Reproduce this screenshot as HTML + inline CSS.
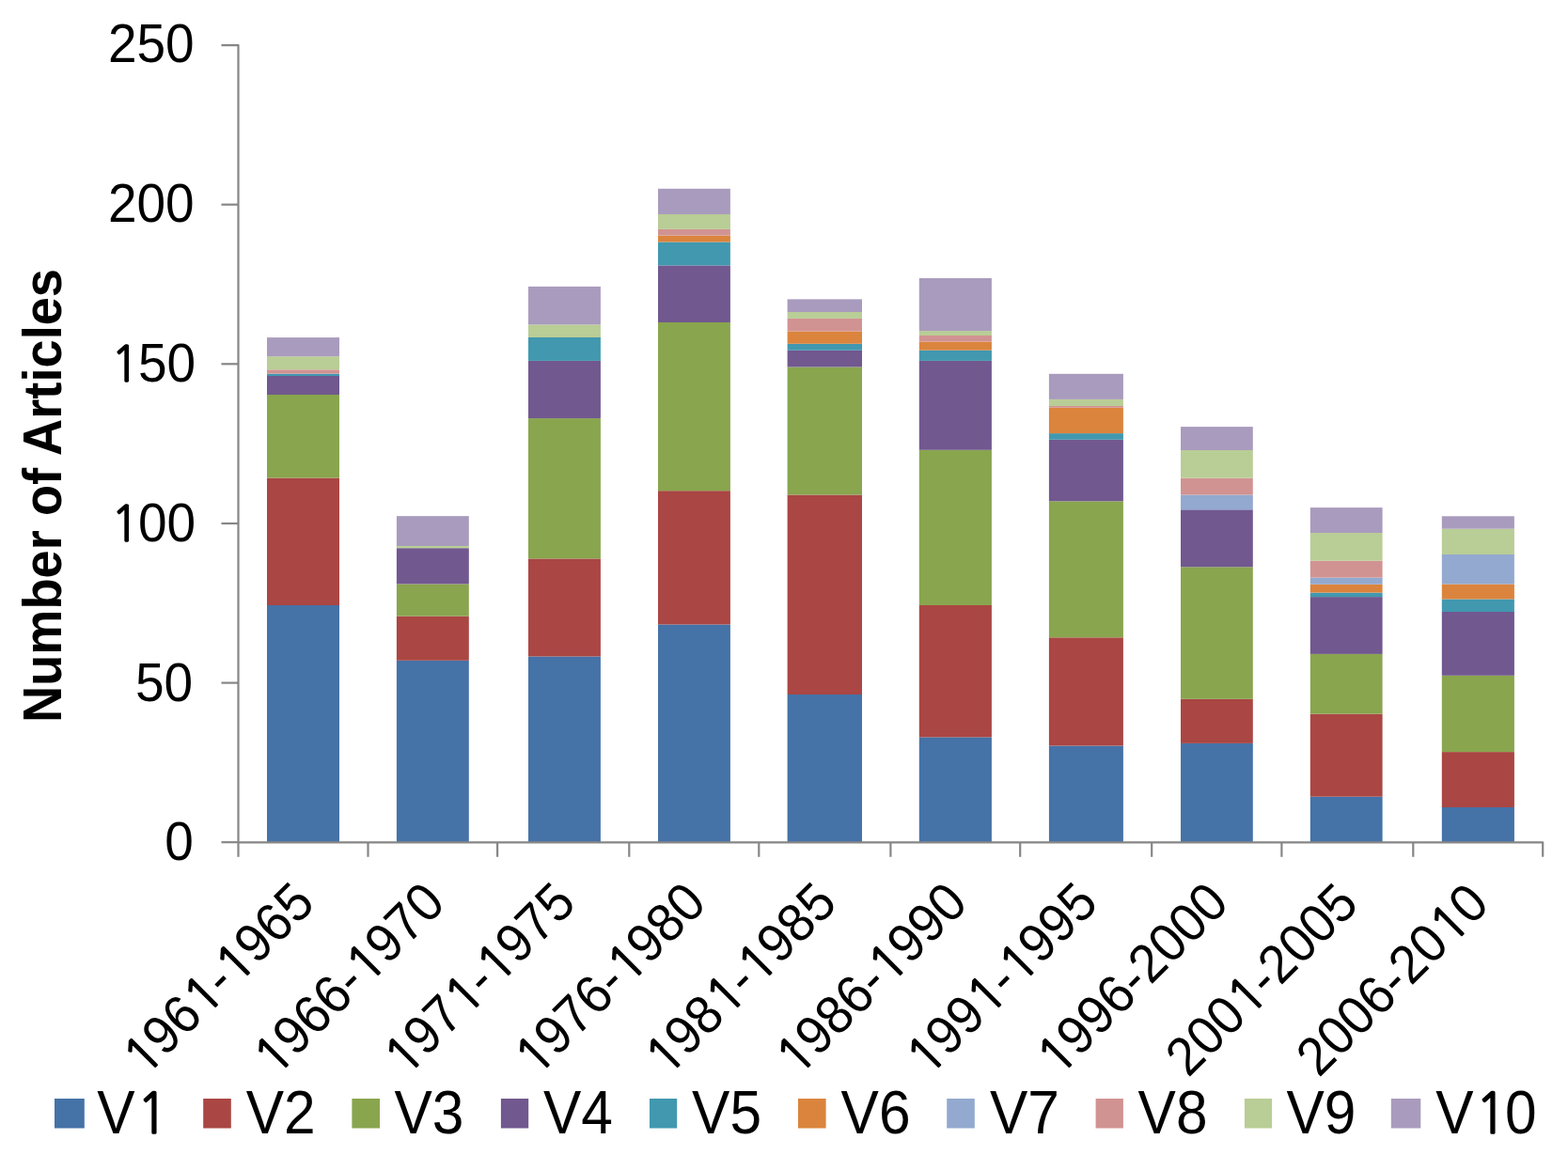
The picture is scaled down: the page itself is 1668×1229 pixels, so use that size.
<!DOCTYPE html>
<html><head><meta charset="utf-8"><title>Number of Articles</title>
<style>html,body{margin:0;padding:0;background:#fff;overflow:hidden;}svg{display:block;}text{font-family:"Liberation Sans",Arial,sans-serif;fill:#000;}</style></head><body>
<svg width="1668" height="1229" viewBox="0 0 1668 1229">
<rect width="1668" height="1229" fill="#fff"/>
<rect x="284.00" y="644.00" width="77.00" height="252.00" fill="#4572A7"/>
<rect x="284.00" y="508.50" width="77.00" height="135.50" fill="#AA4643"/>
<rect x="284.00" y="420.00" width="77.00" height="88.50" fill="#89A54E"/>
<rect x="284.00" y="400.00" width="77.00" height="20.00" fill="#71588F"/>
<rect x="284.00" y="397.60" width="77.00" height="2.40" fill="#4198AF"/>
<rect x="284.00" y="393.30" width="77.00" height="4.30" fill="#D19392"/>
<rect x="284.00" y="379.20" width="77.00" height="14.10" fill="#B9CD96"/>
<rect x="284.00" y="359.10" width="77.00" height="20.10" fill="#A99BBD"/>
<rect x="421.90" y="702.80" width="76.90" height="193.20" fill="#4572A7"/>
<rect x="421.90" y="655.60" width="76.90" height="47.20" fill="#AA4643"/>
<rect x="421.90" y="621.40" width="76.90" height="34.20" fill="#89A54E"/>
<rect x="421.90" y="583.20" width="76.90" height="38.20" fill="#71588F"/>
<rect x="421.90" y="581.00" width="76.90" height="2.20" fill="#B9CD96"/>
<rect x="421.90" y="549.15" width="76.90" height="31.85" fill="#A99BBD"/>
<rect x="562.00" y="698.50" width="76.90" height="197.50" fill="#4572A7"/>
<rect x="562.00" y="594.40" width="76.90" height="104.10" fill="#AA4643"/>
<rect x="562.00" y="445.10" width="76.90" height="149.30" fill="#89A54E"/>
<rect x="562.00" y="383.90" width="76.90" height="61.20" fill="#71588F"/>
<rect x="562.00" y="359.00" width="76.90" height="24.90" fill="#4198AF"/>
<rect x="562.00" y="345.40" width="76.90" height="13.60" fill="#B9CD96"/>
<rect x="562.00" y="304.90" width="76.90" height="40.50" fill="#A99BBD"/>
<rect x="700.00" y="664.50" width="76.90" height="231.50" fill="#4572A7"/>
<rect x="700.00" y="522.20" width="76.90" height="142.30" fill="#AA4643"/>
<rect x="700.00" y="343.00" width="76.90" height="179.20" fill="#89A54E"/>
<rect x="700.00" y="282.40" width="76.90" height="60.60" fill="#71588F"/>
<rect x="700.00" y="257.50" width="76.90" height="24.90" fill="#4198AF"/>
<rect x="700.00" y="250.60" width="76.90" height="6.90" fill="#DB843D"/>
<rect x="700.00" y="243.90" width="76.90" height="6.70" fill="#D19392"/>
<rect x="700.00" y="228.00" width="76.90" height="15.90" fill="#B9CD96"/>
<rect x="700.00" y="200.80" width="76.90" height="27.20" fill="#A99BBD"/>
<rect x="837.60" y="739.00" width="79.40" height="157.00" fill="#4572A7"/>
<rect x="837.60" y="526.50" width="79.40" height="212.50" fill="#AA4643"/>
<rect x="837.60" y="390.50" width="79.40" height="136.00" fill="#89A54E"/>
<rect x="837.60" y="372.80" width="79.40" height="17.70" fill="#71588F"/>
<rect x="837.60" y="365.80" width="79.40" height="7.00" fill="#4198AF"/>
<rect x="837.60" y="352.50" width="79.40" height="13.30" fill="#DB843D"/>
<rect x="837.60" y="338.90" width="79.40" height="13.60" fill="#D19392"/>
<rect x="837.60" y="332.00" width="79.40" height="6.90" fill="#B9CD96"/>
<rect x="837.60" y="318.40" width="79.40" height="13.60" fill="#A99BBD"/>
<rect x="977.80" y="784.40" width="77.10" height="111.60" fill="#4572A7"/>
<rect x="977.80" y="644.00" width="77.10" height="140.40" fill="#AA4643"/>
<rect x="977.80" y="478.80" width="77.10" height="165.20" fill="#89A54E"/>
<rect x="977.80" y="383.90" width="77.10" height="94.90" fill="#71588F"/>
<rect x="977.80" y="372.70" width="77.10" height="11.20" fill="#4198AF"/>
<rect x="977.80" y="363.50" width="77.10" height="9.20" fill="#DB843D"/>
<rect x="977.80" y="357.00" width="77.10" height="6.50" fill="#D19392"/>
<rect x="977.80" y="352.10" width="77.10" height="4.90" fill="#B9CD96"/>
<rect x="977.80" y="296.00" width="77.10" height="56.10" fill="#A99BBD"/>
<rect x="1115.90" y="793.50" width="79.00" height="102.50" fill="#4572A7"/>
<rect x="1115.90" y="678.30" width="79.00" height="115.20" fill="#AA4643"/>
<rect x="1115.90" y="533.30" width="79.00" height="145.00" fill="#89A54E"/>
<rect x="1115.90" y="467.80" width="79.00" height="65.50" fill="#71588F"/>
<rect x="1115.90" y="461.10" width="79.00" height="6.70" fill="#4198AF"/>
<rect x="1115.90" y="433.80" width="79.00" height="27.30" fill="#DB843D"/>
<rect x="1115.90" y="432.00" width="79.00" height="1.80" fill="#D19392"/>
<rect x="1115.90" y="424.90" width="79.00" height="7.10" fill="#B9CD96"/>
<rect x="1115.90" y="397.80" width="79.00" height="27.10" fill="#A99BBD"/>
<rect x="1256.00" y="790.90" width="76.80" height="105.10" fill="#4572A7"/>
<rect x="1256.00" y="743.80" width="76.80" height="47.10" fill="#AA4643"/>
<rect x="1256.00" y="603.30" width="76.80" height="140.50" fill="#89A54E"/>
<rect x="1256.00" y="542.30" width="76.80" height="61.00" fill="#71588F"/>
<rect x="1256.00" y="526.50" width="76.80" height="15.80" fill="#93A9CF"/>
<rect x="1256.00" y="508.70" width="76.80" height="17.80" fill="#D19392"/>
<rect x="1256.00" y="479.00" width="76.80" height="29.70" fill="#B9CD96"/>
<rect x="1256.00" y="454.10" width="76.80" height="24.90" fill="#A99BBD"/>
<rect x="1393.80" y="847.70" width="76.80" height="48.30" fill="#4572A7"/>
<rect x="1393.80" y="759.60" width="76.80" height="88.10" fill="#AA4643"/>
<rect x="1393.80" y="695.90" width="76.80" height="63.70" fill="#89A54E"/>
<rect x="1393.80" y="635.10" width="76.80" height="60.80" fill="#71588F"/>
<rect x="1393.80" y="630.60" width="76.80" height="4.50" fill="#4198AF"/>
<rect x="1393.80" y="621.70" width="76.80" height="8.90" fill="#DB843D"/>
<rect x="1393.80" y="614.60" width="76.80" height="7.10" fill="#93A9CF"/>
<rect x="1393.80" y="596.70" width="76.80" height="17.90" fill="#D19392"/>
<rect x="1393.80" y="567.00" width="76.80" height="29.70" fill="#B9CD96"/>
<rect x="1393.80" y="540.10" width="76.80" height="26.90" fill="#A99BBD"/>
<rect x="1533.80" y="859.00" width="77.10" height="37.00" fill="#4572A7"/>
<rect x="1533.80" y="800.10" width="77.10" height="58.90" fill="#AA4643"/>
<rect x="1533.80" y="718.80" width="77.10" height="81.30" fill="#89A54E"/>
<rect x="1533.80" y="651.00" width="77.10" height="67.80" fill="#71588F"/>
<rect x="1533.80" y="637.50" width="77.10" height="13.50" fill="#4198AF"/>
<rect x="1533.80" y="621.50" width="77.10" height="16.00" fill="#DB843D"/>
<rect x="1533.80" y="590.00" width="77.10" height="31.50" fill="#93A9CF"/>
<rect x="1533.80" y="562.70" width="77.10" height="27.30" fill="#B9CD96"/>
<rect x="1533.80" y="549.30" width="77.10" height="13.40" fill="#A99BBD"/>
<g stroke="#868686" stroke-width="2.20" fill="none" stroke-linejoin="round">
<path d="M235.50 48.06 H253.50 V896.30"/>
<path d="M253.50 896.30 H1641.20 V911.80"/>
<path d="M235.50 217.70 H253.50"/>
<path d="M235.50 387.30 H253.50"/>
<path d="M235.50 557.00 H253.50"/>
<path d="M235.50 726.60 H253.50"/>
<path d="M235.50 896.20 H253.50"/>
<path d="M253.50 896.30 V911.80"/>
<path d="M391.50 896.30 V911.80"/>
<path d="M529.10 896.30 V911.80"/>
<path d="M669.30 896.30 V911.80"/>
<path d="M807.30 896.30 V911.80"/>
<path d="M947.40 896.30 V911.80"/>
<path d="M1085.20 896.30 V911.80"/>
<path d="M1225.20 896.30 V911.80"/>
<path d="M1363.40 896.30 V911.80"/>
<path d="M1503.30 896.30 V911.80"/>
</g>
<text transform="translate(206.70 66.35) scale(1.000 1.060)" font-size="55.00" text-anchor="end">250</text>
<text transform="translate(206.70 236.05) scale(1.000 1.060)" font-size="55.00" text-anchor="end">200</text>
<text transform="translate(206.70 405.65) scale(1.000 1.060)" font-size="55.00" text-anchor="end"><tspan font-family="NanumGothic,&quot;Liberation Sans&quot;,sans-serif" font-size="49.90" stroke="#000" stroke-width="1.30" dx="1.40">1</tspan><tspan dx="-1.40">5</tspan>0</text>
<text transform="translate(206.70 576.05) scale(1.000 1.060)" font-size="55.00" text-anchor="end"><tspan font-family="NanumGothic,&quot;Liberation Sans&quot;,sans-serif" font-size="49.90" stroke="#000" stroke-width="1.30" dx="1.40">1</tspan><tspan dx="-1.40">0</tspan>0</text>
<text transform="translate(205.15 745.65) scale(1.000 1.060)" font-size="55.00" text-anchor="end">50</text>
<text transform="translate(205.95 915.35) scale(1.000 1.060)" font-size="55.00" text-anchor="end">0</text>
<text transform="translate(65.00 527.50) rotate(-90) scale(0.986 1.036)" font-size="55.00" font-weight="bold" text-anchor="middle">Number of Articles</text>
<text transform="translate(336.10 964.40) rotate(-45.00) scale(0.985 1.045)" font-size="55.00" text-anchor="end"><tspan font-family="NanumGothic,&quot;Liberation Sans&quot;,sans-serif" font-size="50.60" stroke="#000" stroke-width="1.30" dx="1.20">1</tspan><tspan dx="-1.20">9</tspan>6<tspan font-family="NanumGothic,&quot;Liberation Sans&quot;,sans-serif" font-size="50.60" stroke="#000" stroke-width="1.30" dx="1.20">1</tspan><tspan dx="-1.20">-</tspan><tspan font-family="NanumGothic,&quot;Liberation Sans&quot;,sans-serif" font-size="50.60" stroke="#000" stroke-width="1.30" dx="1.20">1</tspan><tspan dx="-1.20">9</tspan>65</text>
<text transform="translate(475.00 964.40) rotate(-45.00) scale(0.985 1.045)" font-size="55.00" text-anchor="end"><tspan font-family="NanumGothic,&quot;Liberation Sans&quot;,sans-serif" font-size="50.60" stroke="#000" stroke-width="1.30" dx="1.20">1</tspan><tspan dx="-1.20">9</tspan>66-<tspan font-family="NanumGothic,&quot;Liberation Sans&quot;,sans-serif" font-size="50.60" stroke="#000" stroke-width="1.30" dx="1.20">1</tspan><tspan dx="-1.20">9</tspan>70</text>
<text transform="translate(613.90 964.40) rotate(-45.00) scale(0.985 1.045)" font-size="55.00" text-anchor="end"><tspan font-family="NanumGothic,&quot;Liberation Sans&quot;,sans-serif" font-size="50.60" stroke="#000" stroke-width="1.30" dx="1.20">1</tspan><tspan dx="-1.20">9</tspan>7<tspan font-family="NanumGothic,&quot;Liberation Sans&quot;,sans-serif" font-size="50.60" stroke="#000" stroke-width="1.30" dx="1.20">1</tspan><tspan dx="-1.20">-</tspan><tspan font-family="NanumGothic,&quot;Liberation Sans&quot;,sans-serif" font-size="50.60" stroke="#000" stroke-width="1.30" dx="1.20">1</tspan><tspan dx="-1.20">9</tspan>75</text>
<text transform="translate(752.80 964.40) rotate(-45.00) scale(0.985 1.045)" font-size="55.00" text-anchor="end"><tspan font-family="NanumGothic,&quot;Liberation Sans&quot;,sans-serif" font-size="50.60" stroke="#000" stroke-width="1.30" dx="1.20">1</tspan><tspan dx="-1.20">9</tspan>76-<tspan font-family="NanumGothic,&quot;Liberation Sans&quot;,sans-serif" font-size="50.60" stroke="#000" stroke-width="1.30" dx="1.20">1</tspan><tspan dx="-1.20">9</tspan>80</text>
<text transform="translate(891.70 964.40) rotate(-45.00) scale(0.985 1.045)" font-size="55.00" text-anchor="end"><tspan font-family="NanumGothic,&quot;Liberation Sans&quot;,sans-serif" font-size="50.60" stroke="#000" stroke-width="1.30" dx="1.20">1</tspan><tspan dx="-1.20">9</tspan>8<tspan font-family="NanumGothic,&quot;Liberation Sans&quot;,sans-serif" font-size="50.60" stroke="#000" stroke-width="1.30" dx="1.20">1</tspan><tspan dx="-1.20">-</tspan><tspan font-family="NanumGothic,&quot;Liberation Sans&quot;,sans-serif" font-size="50.60" stroke="#000" stroke-width="1.30" dx="1.20">1</tspan><tspan dx="-1.20">9</tspan>85</text>
<text transform="translate(1030.60 964.40) rotate(-45.00) scale(0.985 1.045)" font-size="55.00" text-anchor="end"><tspan font-family="NanumGothic,&quot;Liberation Sans&quot;,sans-serif" font-size="50.60" stroke="#000" stroke-width="1.30" dx="1.20">1</tspan><tspan dx="-1.20">9</tspan>86-<tspan font-family="NanumGothic,&quot;Liberation Sans&quot;,sans-serif" font-size="50.60" stroke="#000" stroke-width="1.30" dx="1.20">1</tspan><tspan dx="-1.20">9</tspan>90</text>
<text transform="translate(1169.50 964.40) rotate(-45.00) scale(0.985 1.045)" font-size="55.00" text-anchor="end"><tspan font-family="NanumGothic,&quot;Liberation Sans&quot;,sans-serif" font-size="50.60" stroke="#000" stroke-width="1.30" dx="1.20">1</tspan><tspan dx="-1.20">9</tspan>9<tspan font-family="NanumGothic,&quot;Liberation Sans&quot;,sans-serif" font-size="50.60" stroke="#000" stroke-width="1.30" dx="1.20">1</tspan><tspan dx="-1.20">-</tspan><tspan font-family="NanumGothic,&quot;Liberation Sans&quot;,sans-serif" font-size="50.60" stroke="#000" stroke-width="1.30" dx="1.20">1</tspan><tspan dx="-1.20">9</tspan>95</text>
<text transform="translate(1308.40 964.40) rotate(-45.00) scale(0.985 1.045)" font-size="55.00" text-anchor="end"><tspan font-family="NanumGothic,&quot;Liberation Sans&quot;,sans-serif" font-size="50.60" stroke="#000" stroke-width="1.30" dx="1.20">1</tspan><tspan dx="-1.20">9</tspan>96-2000</text>
<text transform="translate(1447.30 964.40) rotate(-45.00) scale(0.985 1.045)" font-size="55.00" text-anchor="end">200<tspan font-family="NanumGothic,&quot;Liberation Sans&quot;,sans-serif" font-size="50.60" stroke="#000" stroke-width="1.30" dx="1.20">1</tspan><tspan dx="-1.20">-</tspan>2005</text>
<text transform="translate(1586.20 964.40) rotate(-45.00) scale(0.985 1.045)" font-size="55.00" text-anchor="end">2006-20<tspan font-family="NanumGothic,&quot;Liberation Sans&quot;,sans-serif" font-size="50.60" stroke="#000" stroke-width="1.30" dx="1.20">1</tspan><tspan dx="-1.20">0</tspan></text>
<rect x="58.00" y="1169.00" width="31.80" height="31.50" fill="#4572A7"/>
<text transform="translate(103.30 1206.20) scale(0.975 1.055)" font-size="62.00">V<tspan font-family="NanumGothic,&quot;Liberation Sans&quot;,sans-serif" font-size="56.50" stroke="#000" stroke-width="1.50" dx="1.90">1</tspan></text>
<rect x="216.20" y="1169.00" width="29.60" height="31.50" fill="#AA4643"/>
<text transform="translate(261.80 1206.20) scale(0.975 1.055)" font-size="62.00">V2</text>
<rect x="374.40" y="1169.00" width="29.60" height="31.50" fill="#89A54E"/>
<text transform="translate(419.40 1206.20) scale(0.975 1.055)" font-size="62.00">V3</text>
<rect x="532.90" y="1169.00" width="29.30" height="31.50" fill="#71588F"/>
<text transform="translate(578.00 1206.20) scale(0.975 1.055)" font-size="62.00">V4</text>
<rect x="691.00" y="1169.00" width="29.20" height="31.50" fill="#4198AF"/>
<text transform="translate(736.10 1206.20) scale(0.975 1.055)" font-size="62.00">V5</text>
<rect x="849.00" y="1169.00" width="29.60" height="31.50" fill="#DB843D"/>
<text transform="translate(894.60 1206.20) scale(0.975 1.055)" font-size="62.00">V6</text>
<rect x="1007.20" y="1169.00" width="29.60" height="31.50" fill="#93A9CF"/>
<text transform="translate(1052.90 1206.20) scale(0.975 1.055)" font-size="62.00">V7</text>
<rect x="1165.60" y="1169.00" width="29.30" height="31.50" fill="#D19392"/>
<text transform="translate(1210.60 1206.20) scale(0.975 1.055)" font-size="62.00">V8</text>
<rect x="1323.90" y="1169.00" width="29.20" height="31.50" fill="#B9CD96"/>
<text transform="translate(1368.50 1206.20) scale(0.975 1.055)" font-size="62.00">V9</text>
<rect x="1479.80" y="1169.00" width="31.50" height="31.50" fill="#A99BBD"/>
<text transform="translate(1527.30 1206.20) scale(0.975 1.055)" font-size="62.00">V<tspan font-family="NanumGothic,&quot;Liberation Sans&quot;,sans-serif" font-size="56.50" stroke="#000" stroke-width="1.50" dx="1.90">1</tspan><tspan dx="-1.90">0</tspan></text>
</svg></body></html>
